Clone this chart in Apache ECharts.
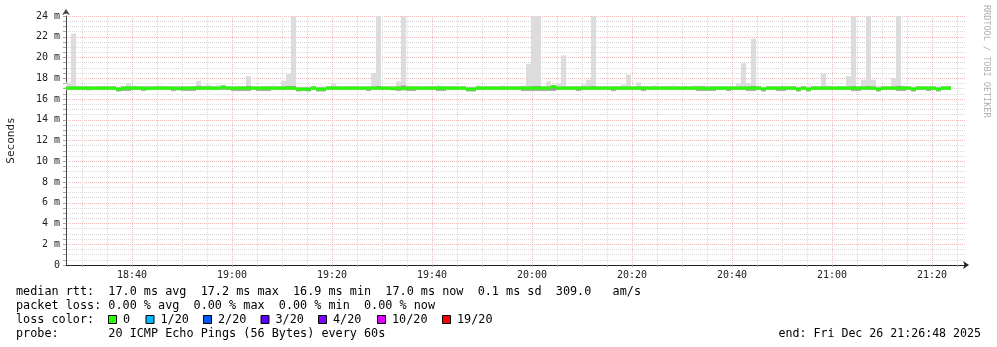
<!DOCTYPE html>
<html>
<head>
<meta charset="utf-8">
<script src="https://cdn.jsdelivr.net/npm/echarts@6/dist/echarts.min.js"></script>
<style>
html,body{margin:0;padding:0;background:#fff;}
#chart{width:997px;height:347px;}
</style>
</head>
<body>
<div id="chart"></div>
<script>
// time of first sample, in minutes after 18:00 (18:26:48), one sample per minute
const startMinute = 26.8;
const endMinute = 206.8; // 21:26:48
const stepMinutes = 1;

// median RTT per sample (ms)
const medians = [
17.05,17.05,17.05,17.05,17.05,17.05,17.05,17.05,17.05,17.05,
16.95,17.05,17.05,17.05,17.05,17.05,17.0,17.05,17.05,17.05,
17.05,17.05,17.0,17.05,17.05,17.05,17.05,17.05,17.05,17.05,
17.05,17.15,17.05,17.05,17.05,17.05,17.05,17.05,17.05,17.05,
17.05,17.05,17.05,17.05,17.05,17.05,16.95,16.95,16.95,17.05,
16.95,16.95,17.05,17.05,17.05,17.05,17.05,17.05,17.05,17.05,
17.05,17.05,17.05,17.05,17.05,17.0,17.05,17.0,17.05,17.05,
17.05,17.05,17.05,17.05,17.05,17.05,17.05,17.05,17.05,17.05,
16.95,16.95,17.05,17.05,17.05,17.05,17.05,17.05,17.05,17.05,
17.05,17.05,17.05,17.05,17.05,17.05,17.05,17.2,17.05,17.05,
17.05,17.05,17.05,17.05,17.05,17.05,17.05,17.05,17.05,17.05,
17.05,17.05,17.05,17.05,17.05,17.05,17.05,17.05,17.05,17.05,
17.05,17.05,17.05,17.05,17.05,17.05,17.05,17.05,17.0,17.05,
17.05,17.05,17.05,17.05,17.05,17.05,17.05,17.05,17.05,16.95,
17.05,17.05,17.05,17.05,17.05,17.05,16.95,17.05,16.95,17.05,
17.05,17.05,17.05,17.05,17.05,17.05,17.05,17.05,17.05,17.05,
17.05,17.05,16.95,17.05,17.05,17.05,17.05,17.05,17.05,16.95,
17.05,17.05,17.05,17.05,16.95,17.05,17.05
];

// highest ping per sample (ms)
const maxPing = [
17.6,22.3,17.3,17.25,17.25,17.2,17.25,17.25,17.25,17.2,
17.2,17.25,17.5,17.3,17.25,17.2,17.25,17.25,17.3,17.25,
17.25,17.2,17.25,17.25,17.2,17.25,17.75,17.3,17.35,17.25,
17.3,17.3,17.25,17.2,17.25,17.25,18.2,17.25,17.2,17.25,
17.25,17.3,17.25,17.75,18.4,30,17.2,17.2,17.2,17.25,
17.2,17.2,17.25,17.5,17.25,17.2,17.25,17.25,17.25,17.2,
17.25,18.5,30,17.25,17.2,17.25,17.7,30,17.3,17.25,
17.25,17.2,17.25,17.25,17.3,17.25,17.25,17.25,17.2,17.25,
17.2,17.2,17.3,17.25,17.25,17.25,17.25,17.3,17.25,17.25,
17.25,17.3,19.4,30,30,17.25,17.7,17.35,17.5,20.2,
17.25,17.25,17.25,17.4,17.85,30,17.25,17.25,17.2,17.25,
17.25,17.4,18.35,17.25,17.6,17.25,17.25,17.3,17.25,17.25,
17.25,17.3,17.25,17.25,17.25,17.3,17.3,17.3,17.25,17.25,
17.25,17.25,17.25,17.25,17.5,19.45,17.55,21.8,17.3,17.2,
17.25,17.25,17.25,17.3,17.25,17.25,17.2,17.25,17.2,17.25,
17.25,18.45,17.3,17.25,17.25,17.25,18.2,30,17.25,17.85,
30,17.85,17.25,17.25,17.25,18.0,30,17.3,17.25,17.2,
17.25,17.25,17.25,17.25,17.2,17.25,17.3
];

// upper edge of the dense part of the smoke (ms)
const upperDense = [
17.2,17.2,17.2,17.2,17.2,17.2,17.2,17.2,17.2,17.2,
17.1,17.2,17.2,17.2,17.2,17.2,17.2,17.2,17.2,17.2,
17.2,17.2,17.2,17.2,17.2,17.2,17.25,17.2,17.2,17.2,
17.2,17.3,17.2,17.2,17.2,17.2,17.25,17.2,17.2,17.2,
17.2,17.2,17.2,17.2,17.25,17.25,17.1,17.1,17.1,17.2,
17.1,17.1,17.2,17.2,17.2,17.2,17.2,17.2,17.2,17.2,
17.2,17.2,17.25,17.2,17.2,17.2,17.2,17.3,17.2,17.2,
17.2,17.2,17.2,17.2,17.2,17.2,17.2,17.2,17.2,17.2,
17.1,17.1,17.2,17.2,17.2,17.2,17.2,17.2,17.2,17.2,
17.2,17.2,17.2,17.25,17.25,17.2,17.2,17.35,17.2,17.2,
17.2,17.2,17.2,17.2,17.2,17.25,17.2,17.2,17.2,17.2,
17.2,17.2,17.2,17.2,17.2,17.2,17.2,17.2,17.2,17.2,
17.2,17.2,17.2,17.2,17.2,17.2,17.2,17.2,17.2,17.2,
17.2,17.2,17.2,17.2,17.2,17.2,17.2,17.25,17.2,17.1,
17.2,17.2,17.2,17.2,17.2,17.2,17.1,17.2,17.1,17.2,
17.2,17.2,17.2,17.2,17.2,17.2,17.2,17.25,17.2,17.2,
17.25,17.2,17.1,17.2,17.2,17.2,17.25,17.2,17.2,17.1,
17.2,17.2,17.2,17.2,17.1,17.2,17.2
];

// lower edge of the dense part of the smoke (ms)
const lowerDense = [
16.9,16.9,16.9,16.9,16.9,16.9,16.9,16.9,16.9,16.9,
16.75,16.8,16.8,16.9,16.9,16.8,16.9,16.9,16.9,16.9,
16.9,16.8,16.9,16.8,16.8,16.8,16.9,16.9,16.9,16.9,
16.9,16.9,16.9,16.8,16.8,16.8,16.8,16.9,16.8,16.8,
16.8,16.9,16.9,16.9,16.9,16.9,16.75,16.8,16.75,16.9,
16.75,16.75,16.9,16.9,16.9,16.9,16.9,16.9,16.9,16.9,
16.8,16.9,16.9,16.9,16.9,16.9,16.8,16.9,16.8,16.8,
16.9,16.9,16.9,16.9,16.8,16.8,16.9,16.9,16.9,16.9,
16.75,16.75,16.9,16.9,16.9,16.9,16.9,16.9,16.9,16.9,
16.9,16.8,16.8,16.8,16.8,16.8,16.8,16.8,16.9,16.9,
16.9,16.9,16.8,16.9,16.9,16.9,16.9,16.9,16.9,16.8,
16.9,16.9,16.9,16.9,16.9,16.8,16.9,16.9,16.9,16.9,
16.9,16.9,16.9,16.9,16.9,16.9,16.8,16.8,16.8,16.8,
16.9,16.9,16.8,16.9,16.9,16.9,16.8,16.8,16.9,16.75,
16.9,16.9,16.8,16.8,16.9,16.9,16.75,16.9,16.75,16.9,
16.9,16.9,16.9,16.9,16.9,16.9,16.9,16.8,16.8,16.9,
16.9,16.9,16.75,16.9,16.9,16.9,16.8,16.8,16.9,16.75,
16.9,16.9,16.8,16.9,16.75,16.9,16.9
];

// lowest ping per sample (ms)
const minPing = [
16.85,16.85,16.85,16.85,16.8,16.85,16.85,16.85,16.85,16.85,
16.7,16.75,16.75,16.85,16.85,16.75,16.85,16.85,16.85,16.85,
16.85,16.75,16.8,16.75,16.75,16.75,16.85,16.85,16.85,16.85,
16.85,16.85,16.85,16.75,16.75,16.75,16.75,16.85,16.75,16.75,
16.75,16.85,16.85,16.85,16.85,16.85,16.7,16.75,16.7,16.85,
16.7,16.7,16.85,16.85,16.85,16.85,16.85,16.85,16.85,16.85,
16.75,16.85,16.85,16.85,16.85,16.8,16.75,16.8,16.75,16.75,
16.85,16.85,16.85,16.85,16.75,16.75,16.85,16.85,16.85,16.85,
16.7,16.7,16.85,16.85,16.85,16.85,16.85,16.85,16.85,16.85,
16.85,16.75,16.75,16.75,16.75,16.75,16.75,16.75,16.85,16.85,
16.85,16.85,16.75,16.85,16.85,16.85,16.85,16.85,16.85,16.75,
16.85,16.85,16.85,16.85,16.85,16.75,16.85,16.85,16.85,16.85,
16.85,16.85,16.85,16.85,16.85,16.85,16.75,16.75,16.75,16.75,
16.85,16.85,16.75,16.85,16.85,16.85,16.75,16.75,16.85,16.7,
16.85,16.85,16.75,16.75,16.85,16.85,16.7,16.85,16.7,16.85,
16.85,16.85,16.85,16.85,16.85,16.85,16.85,16.75,16.75,16.85,
16.85,16.85,16.7,16.85,16.85,16.85,16.75,16.75,16.85,16.7,
16.85,16.85,16.75,16.85,16.7,16.85,16.85
];

// axis ticks
const yMax = 24;
const yMinorStep = 0.5;
const xTickMinutes = [30,35,40,45,50,55,60,65,70,75,80,85,90,95,100,105,110,115,120,125,130,135,140,145,150,155,160,165,170,175,180,185,190,195,200,205];
const xLabelMinutes = [40,60,80,100,120,140,160,180,200];

// legend texts
const statsLine = 'median rtt:  17.0 ms avg  17.2 ms max  16.9 ms min  17.0 ms now  0.1 ms sd  309.0   am/s';
const lossLine = 'packet loss: 0.00 % avg  0.00 % max  0.00 % min  0.00 % now';
const lossColorTitle = 'loss color:';
const lossLabels = ['0','1/20','2/20','3/20','4/20','10/20','19/20'];
const lossColors = ['#26ff00','#00b8ff','#0059ff','#5e00ff','#7e00ff','#dd00ff','#ff0000'];
const probeLine = 'probe:       20 ICMP Echo Pings (56 Bytes) every 60s';
const endLine = 'end: Fri Dec 26 21:26:48 2025';
const watermark = 'RRDTOOL / TOBI OETIKER';

const smokeData = medians.map((m, i) => [startMinute + i*stepMinutes, startMinute + (i+1)*stepMinutes, minPing[i], maxPing[i]]);
const denseData = medians.map((m, i) => [startMinute + i*stepMinutes, startMinute + (i+1)*stepMinutes, lowerDense[i], upperDense[i]]);
const medianData = medians.map((m, i) => [startMinute + i*stepMinutes, startMinute + (i+1)*stepMinutes, m]);

function fmtTime(v){
  const tot = Math.round(v);
  const h = 18 + Math.floor(tot/60), mm = tot % 60;
  return h + ':' + (mm < 10 ? '0' : '') + mm;
}

function bandRenderer(fill){
  return function(params, api){
    const a = api.coord([api.value(0), api.value(3)]);
    const b = api.coord([api.value(1), api.value(2)]);
    const r = echarts.graphic.clipRectByRect({x:a[0], y:a[1], width:b[0]-a[0], height:b[1]-a[1]}, params.coordSys);
    return r && {type:'rect', shape:r, style:{fill:fill}};
  };
}

const MONO = '"DejaVu Sans Mono", monospace';
const chart = echarts.init(document.getElementById('chart'), null, {renderer:'canvas'});

const legendGraphics = [];
const lineYs = [293, 307, 321, 335];
const FONT = '11.8px ' + MONO;
legendGraphics.push({type:'text', left:16, top:lineYs[0]-7, style:{text:statsLine, font:FONT, fill:'#000'}});
legendGraphics.push({type:'text', left:16, top:lineYs[1]-7, style:{text:lossLine, font:FONT, fill:'#000'}});
legendGraphics.push({type:'text', left:16, top:lineYs[2]-7, style:{text:lossColorTitle, font:FONT, fill:'#000'}});
const boxXs = [108, 145.5, 203, 260.5, 318, 377, 442];
lossLabels.forEach((lab, i) => {
  legendGraphics.push({type:'rect', shape:{x:boxXs[i]+0.5, y:lineYs[2]-5.5, width:8, height:8}, style:{fill:lossColors[i], stroke:'#000', lineWidth:1}});
  legendGraphics.push({type:'text', left:boxXs[i]+15, top:lineYs[2]-7, style:{text:lab, font:FONT, fill:'#000'}});
});
legendGraphics.push({type:'text', left:16, top:lineYs[3]-7, style:{text:probeLine, font:FONT, fill:'#000'}});
legendGraphics.push({type:'text', right:16, top:lineYs[3]-7, style:{text:endLine, font:'11.6px '+MONO, fill:'#000'}});
legendGraphics.push({type:'text', x:991, y:5, rotation:-Math.PI/2, style:{text:watermark, font:'8.5px '+MONO, fill:'#b0b0b0'}});

const MAJOR = '#ecb8b8', MINOR = '#dadada';
const option = {
  backgroundColor:'#fff',
  animation:false,
  grid:{left:66, right:31, top:16, bottom:82, containLabel:false, outerBoundsMode:'none'},
  xAxis:{
    type:'value', min:startMinute, max:endMinute,
    axisLine:{show:true, onZero:false, lineStyle:{color:'#222', width:1}, symbol:['none','arrow'], symbolSize:[6,6], symbolOffset:[0,3]},
    axisTick:{show:true, length:2, customValues:xTickMinutes, lineStyle:{color:'#999'}},
    axisLabel:{customValues:xLabelMinutes, formatter:fmtTime, margin:5, fontFamily:MONO, fontSize:10, color:'#222'},
    splitLine:{show:true, lineStyle:{color:[MINOR,MINOR,MAJOR,MINOR], type:[1,1], width:1}}
  },
  yAxis:{
    type:'value', min:0, max:yMax, interval:yMinorStep,
    name:'Seconds', nameLocation:'middle', nameRotate:90, nameGap:49,
    nameTextStyle:{fontFamily:MONO, fontSize:11, color:'#222'},
    axisLine:{show:true, lineStyle:{color:'#444', width:1}, symbol:['none','arrow'], symbolSize:[6,6], symbolOffset:[0,7]},
    axisTick:{show:true, length:3, lineStyle:{color:'#aaa'}},
    axisLabel:{margin:6, fontFamily:MONO, fontSize:10, color:'#222',
      formatter:function(v){ if (Math.abs(v % 2) > 1e-9) return ''; return v === 0 ? '0' : v + ' m'; }},
    splitLine:{show:true, lineStyle:{color:[MAJOR,MINOR,MINOR,MINOR], type:[1,1], width:1}}
  },
  graphic: legendGraphics,
  series:[
    { type:'custom', name:'smoke', clip:true, z:2, data:smokeData, renderItem:bandRenderer('#dcdcdc') },
    { type:'custom', name:'dense', clip:true, z:3, data:denseData, renderItem:bandRenderer('#9c9c9c') },
    {
      type:'custom', name:'median', clip:true, z:4,
      data: medianData,
      renderItem:function(params, api){
        const a = api.coord([api.value(0), api.value(2)]);
        const b = api.coord([api.value(1), api.value(2)]);
        return {type:'rect', shape:{x:a[0], y:a[1]-1.5, width:b[0]-a[0], height:3}, style:{fill:'#26ff00'}};
      }
    }
  ]
};
chart.setOption(option);
</script>
</body>
</html>
